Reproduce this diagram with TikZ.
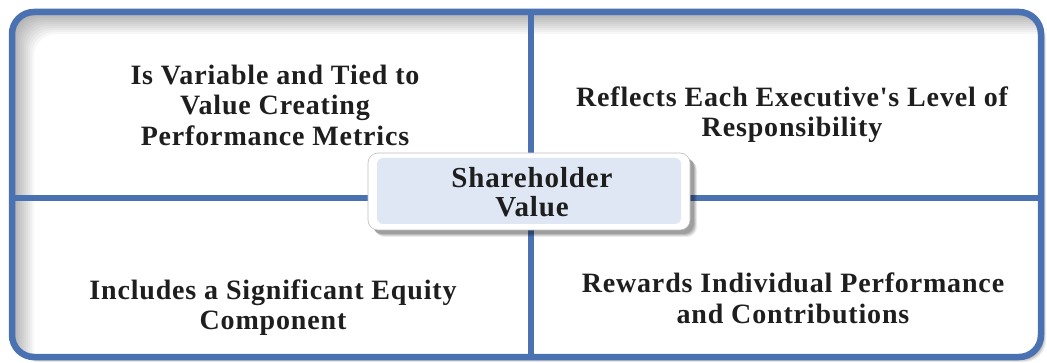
\documentclass[tikz,border=0pt]{standalone}
\usepackage{fontspec}
\setmainfont{Liberation Serif}[Ligatures=TeXOff, LetterSpace=3]
\definecolor{frameblue}{RGB}{74,114,178}
\definecolor{centerfill}{RGB}{223,231,244}
\definecolor{txt}{RGB}{30,30,30}
\tikzset{
  quadtext/.style={align=center, text=txt, font=\bfseries\fontsize{28}{30.5}\selectfont, inner sep=0pt},
  centertext/.style={align=center, text=txt, font=\bfseries\fontsize{29}{28.5}\selectfont, inner sep=0pt},
  frameline/.style={draw=frameblue, line width=6.5pt},
}
\begin{document}
\begin{tikzpicture}[x=1pt,y=-1pt]
\useasboundingbox (0,0) rectangle (1047,363);
\coordinate (tl) at (12,12);
\coordinate (br) at (1041,357);
% outer drop shadow
\foreach \s/\o in {5/0.08,4/0.10,3/0.12} {
  \fill[black, opacity=\o, rounded corners=22pt] ([xshift=\s pt,yshift=-\s pt]tl) rectangle ([xshift=\s pt,yshift=-\s pt]br);
}
\fill[white, rounded corners=22pt] (tl) rectangle (br);
% inner shadow (top and left only)
\begin{scope}
  \clip[rounded corners=22pt] (tl) rectangle (br);
  \foreach \d in {4,6,...,22} {
    \fill[black, opacity=0.03, even odd rule] (0,0) rectangle (1047,363)
      [rounded corners=22pt] ([xshift=\d pt,yshift=-\d pt]tl) rectangle ([xshift=\d pt,yshift=-\d pt]br);
  }
\end{scope}
\draw[frameline, rounded corners=22pt] (tl) rectangle (br);
% dividers
\coordinate (vt) at (531,12);
\coordinate (vb) at (531,357);
\coordinate (hl) at (12,198);
\coordinate (hr) at (1041,198);
\draw[frameline] (vt) -- (vb);
\draw[frameline] (hl) -- (hr);
% center box shadow
\foreach \s/\o in {7/0.08,6/0.10,5/0.12,4/0.14} {
  \fill[black, opacity=\o, rounded corners=10pt] (368+\s,153+\s) rectangle (690+\s,230+\s);
}
\node[draw=black!25, line width=0.6pt, fill=white, rounded corners=10pt, minimum width=322pt, minimum height=77pt, inner sep=0pt] (cbox) at (529,191.5) {};
\node[fill=centerfill, rounded corners=6pt, minimum width=304pt, minimum height=66pt, inner sep=0pt] (cfill) at (529,191) {};
\node[centertext] (center) at (532,192) {Shareholder\\Value};
% quadrant texts
\node[quadtext] (q1) at (275,105) {Is Variable and Tied to\\Value Creating\\Performance Metrics};
\node[quadtext] (q2) at (792,114.5) {Reflects Each Executive's Level of\\Responsibility};
\node[quadtext] (q3) at (273,307.5) {Includes a Significant Equity\\Component};
\node[quadtext] (q4) at (793,298.5) {Rewards Individual Performance\\and Contributions};
\end{tikzpicture}
\end{document}
